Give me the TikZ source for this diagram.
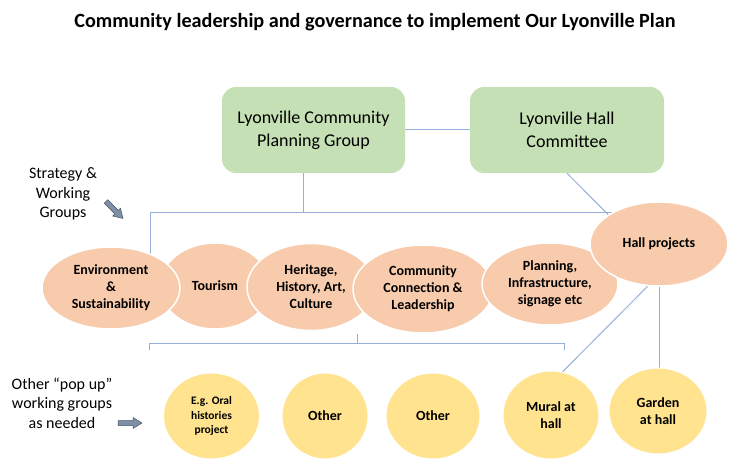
\documentclass[tikz,border=0pt]{standalone}
\usepackage{fontspec}
\setmainfont{Carlito}
\usetikzlibrary{shapes.geometric,calc}
\definecolor{lineblue}{RGB}{150,175,218}
\definecolor{boxgreen}{HTML}{C5E0B4}
\definecolor{peach}{HTML}{F8CBAD}
\definecolor{sun}{HTML}{FFE38F}
\definecolor{arrowfill}{HTML}{7F8FA6}
\definecolor{arrowdraw}{HTML}{4A5568}
\pgfdeclarelayer{bg}
\pgfsetlayers{bg,main}
\tikzset{
  gbox/.style={rectangle, rounded corners=14pt, fill=boxgreen, draw=none, align=center,
    inner sep=0pt, font=\fontsize{18}{23}\selectfont},
  pell/.style={ellipse, fill=peach, draw=white, line width=1.5pt, align=center,
    inner sep=0pt, font=\fontsize{14}{17}\selectfont\bfseries},
  yell/.style={ellipse, fill=sun, draw=white, line width=1pt, align=center,
    inner sep=0pt, font=\fontsize{14}{17}\selectfont\bfseries},
  side/.style={align=center, inner sep=0pt, font=\fontsize{16}{19.5}\selectfont},
  conn/.style={draw=lineblue, line width=1pt},
  blockarrow/.style={fill=arrowfill, draw=arrowdraw, line width=0.5pt}
}
\begin{document}
\begin{tikzpicture}[x=1pt,y=-1pt]
\useasboundingbox (0,0) rectangle (730,465);
% title
\node[font=\fontsize{20.2}{24}\selectfont\bfseries] (title) at (375,22) {Community leadership and governance to implement Our Lyonville Plan};
% green boxes
\node[gbox, minimum width=183pt, minimum height=86pt] (pg) at (313.5,130) {Lyonville Community\\Planning Group};
\node[gbox, minimum width=194pt, minimum height=86pt] (hc) at (567,130) {Lyonville Hall\\Committee};
% peach ellipses (order matters for overlap)
\node[pell, minimum width=110pt, minimum height=86pt] (tour) at (215,286) {Tourism};
\node[pell, minimum width=138pt, minimum height=82pt] (env) at (111,288) {Environment\\\&\\Sustainability};
\node[pell, minimum width=128pt, minimum height=87pt] (her) at (311,287) {Heritage,\\History, Art,\\Culture};
\node[pell, minimum width=140pt, minimum height=88pt] (comm) at (423,289) {Community\\Connection \&\\Leadership};
\node[pell, minimum width=136pt, minimum height=82pt] (plan) at (550,284) {Planning,\\Infrastructure,\\signage etc};
\node[pell, minimum width=138pt, minimum height=84pt] (hall) at (659,244) {Hall projects};
% yellow circles
\node[yell, minimum width=96pt, minimum height=86pt, font=\fontsize{11.5}{14.5}\selectfont\bfseries] (oral) at (211.5,416) {E.g. Oral\\histories\\project};
\node[yell, minimum width=86pt, minimum height=86pt] (oth1) at (325,416) {Other};
\node[yell, minimum width=94pt, minimum height=86pt] (oth2) at (433,416) {Other};
\node[yell, minimum width=96pt, minimum height=88pt] (mural) at (551,415) {Mural at\\hall};
\node[yell, minimum width=98pt, minimum height=86pt] (garden) at (658,411) {Garden\\at hall};
% side labels
\node[side] (strat) at (63,194) {Strategy \&\\Working\\Groups};
\node[side] (popup) at (62,403) {Other “pop up”\\working groups\\as needed};
% block arrows
\begin{scope}[shift={(114.5,210)}, rotate=-45]
\draw[blockarrow] (-12,-2.5) -- (3,-2.5) -- (3,-5.5) -- (12,0) -- (3,5.5) -- (3,2.5) -- (-12,2.5) -- cycle;
\end{scope}
\begin{scope}[shift={(130,423)}]
\draw[blockarrow] (-12,-2.5) -- (3,-2.5) -- (3,-5.5) -- (12,0) -- (3,5.5) -- (3,2.5) -- (-12,2.5) -- cycle;
\end{scope}
% connectors on background
\coordinate (hl) at (150,212);
\coordinate (j1) at (303,212);
\coordinate (bl) at (149,343);
\coordinate (br) at (564,343);
\coordinate (bm) at (357,343);
\begin{pgfonlayer}{bg}
\draw[conn] (pg.east) -- (hc.west);
\draw[conn] (j1 |- pg.south) -- (j1);
\draw[conn] (hl) -- (hl -| hall.center);
\draw[conn] (hl) -- (hl |- env.center);
\draw[conn] (hc.south -| 567,0) -- (hall.150);
\draw[conn] (hall.-105) -- (mural.75);
\draw[conn] (hall.south) -- (hall.south |- garden.north);
\draw[conn] ([yshift=-7pt]bl) -- (bl) -- (br) -- ([yshift=-7pt]br);
\draw[conn] (bm) -- ([yshift=9pt]bm);
\end{pgfonlayer}
\end{tikzpicture}
\end{document}
